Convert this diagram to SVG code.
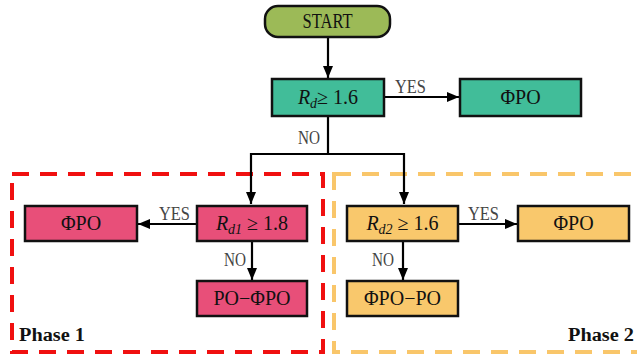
<svg xmlns="http://www.w3.org/2000/svg" width="637" height="357" viewBox="0 0 637 357">
<defs>
<marker id="ah" markerWidth="12" markerHeight="10" refX="12" refY="5" orient="auto" markerUnits="userSpaceOnUse">
<path d="M0,0 L12,5 L0,10 Z" fill="#000"/>
</marker>
<style>
.box{stroke:#111;stroke-width:2.5}
.g{fill:#41bd99}
.r{fill:#e84f79}
.o{fill:#f9c86c}
.t{font-family:"Liberation Serif",serif;font-size:20px;fill:#111;text-anchor:middle}
.lbl{font-family:"Liberation Serif",serif;font-size:18px;fill:#444}
.ph{font-family:"Liberation Serif",serif;font-size:18px;font-weight:bold;fill:#111}
.c{stroke:#000;stroke-width:2.2;fill:none}
</style>
</defs>
<rect width="637" height="357" fill="#fff"/>
<g id="phase1">
<rect x="12" y="174" width="311" height="178" fill="none" stroke="#f01010" stroke-width="4" stroke-dasharray="17,11"/>
<text class="ph" x="19" y="341" textLength="66" lengthAdjust="spacingAndGlyphs">Phase 1</text>
</g>
<g id="phase2">
<rect x="334" y="174" width="320" height="178" fill="none" stroke="#f9c66a" stroke-width="4" stroke-dasharray="17,11"/>
<text class="ph" x="568" y="341" textLength="66" lengthAdjust="spacingAndGlyphs">Phase 2</text>
</g>
<g id="connectors">
<line class="c" x1="328" y1="37" x2="328" y2="78" marker-end="url(#ah)"/>
<line class="c" x1="384" y1="97" x2="459" y2="97" marker-end="url(#ah)"/>
<polyline class="c" points="328,116 328,154 251,154 251,204" marker-end="url(#ah)"/>
<polyline class="c" points="328,154 404,154 404,204" marker-end="url(#ah)"/>
<line class="c" x1="197" y1="224" x2="138" y2="224" marker-end="url(#ah)"/>
<line class="c" x1="252" y1="241" x2="252" y2="280" marker-end="url(#ah)"/>
<line class="c" x1="458" y1="224" x2="517" y2="224" marker-end="url(#ah)"/>
<line class="c" x1="403" y1="241" x2="403" y2="280" marker-end="url(#ah)"/>
<text class="lbl" x="395" y="93" textLength="31" lengthAdjust="spacingAndGlyphs">YES</text>
<text class="lbl" x="298" y="144" textLength="22" lengthAdjust="spacingAndGlyphs">NO</text>
<text class="lbl" x="159" y="220" textLength="31" lengthAdjust="spacingAndGlyphs">YES</text>
<text class="lbl" x="224" y="266" textLength="22" lengthAdjust="spacingAndGlyphs">NO</text>
<text class="lbl" x="468" y="220" textLength="31" lengthAdjust="spacingAndGlyphs">YES</text>
<text class="lbl" x="372" y="266" textLength="22" lengthAdjust="spacingAndGlyphs">NO</text>
</g>
<g id="start">
<rect x="265" y="6" width="125" height="31" rx="13" fill="#9cba57" class="box"/>
<text class="t" x="327.5" y="28" font-size="19" textLength="50" lengthAdjust="spacingAndGlyphs">START</text>
</g>
<g id="rd">
<rect class="box g" x="272" y="79" width="112" height="37"/>
<text class="t" x="328" y="104"><tspan font-style="italic">R</tspan><tspan font-style="italic" font-size="14" dy="4">d</tspan><tspan dy="-4">≥ 1.6</tspan></text>
</g>
<g id="phpo0">
<rect class="box g" x="460" y="79" width="121" height="37"/>
<text class="t" x="520.5" y="104">ΦPO</text>
</g>
<g id="rd1">
<rect class="box r" x="197" y="206" width="110" height="35"/>
<text class="t" x="252" y="230"><tspan font-style="italic">R</tspan><tspan font-style="italic" font-size="14" dy="4">d1</tspan><tspan dy="-4"> ≥ 1.8</tspan></text>
</g>
<g id="phpo1">
<rect class="box r" x="25" y="206" width="112" height="35"/>
<text class="t" x="81" y="230">ΦPO</text>
</g>
<g id="pophpo">
<rect class="box r" x="197" y="281" width="110" height="35"/>
<text class="t" x="252" y="305">PO−ΦPO</text>
</g>
<g id="rd2">
<rect class="box o" x="347" y="206" width="111" height="35"/>
<text class="t" x="402.5" y="230"><tspan font-style="italic">R</tspan><tspan font-style="italic" font-size="14" dy="4">d2</tspan><tspan dy="-4"> ≥ 1.6</tspan></text>
</g>
<g id="phpo2">
<rect class="box o" x="518" y="206" width="111" height="35"/>
<text class="t" x="573.5" y="230">ΦPO</text>
</g>
<g id="phpopo">
<rect class="box o" x="347" y="281" width="111" height="35"/>
<text class="t" x="402.5" y="305">ΦPO−PO</text>
</g>
</svg>
